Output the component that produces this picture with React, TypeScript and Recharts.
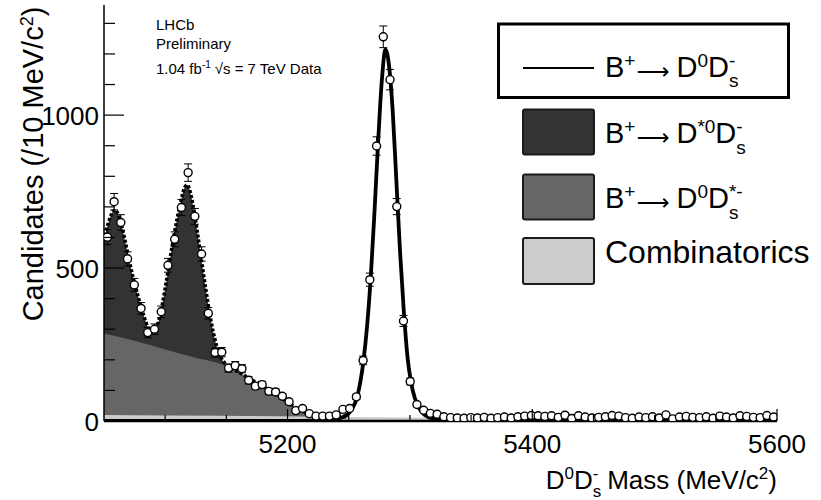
import { ComposedChart, Area, Line, Scatter, ErrorBar, XAxis, YAxis, Legend } from 'recharts';

// binning of the mass histogram: 100 bins from 5050 to 5600 MeV
const BIN_LO = 5050;
const BIN_WIDTH = 5.5;

// candidates per bin
const counts = [
  601, 717, 649, 530, 445, 368, 289, 300, 357, 509,
  594, 698, 812, 669, 546, 352, 224, 225, 173, 181,
  171, 133, 114, 119, 97, 95, 81, 63, 34, 41,
  24, 16, 16, 16, 20, 38, 41, 79, 198, 462,
  899, 1256, 1116, 701, 327, 129, 54, 35, 25, 22,
  14, 11, 10, 9, 11, 10, 12, 9, 11, 13,
  10, 14, 16, 18, 17, 15, 17, 12, 19, 8,
  17, 13, 10, 12, 14, 18, 16, 11, 9, 13,
  11, 14, 10, 20, 7, 13, 15, 12, 11, 14,
  9, 16, 13, 10, 17, 15, 12, 11, 18, 13,
];

// total background fit (top of the dark area, dotted line)
const bkgMass = [
  5050, 5053, 5056, 5059, 5062, 5065, 5068, 5071, 5074, 5077, 5080, 5083, 5086, 5089,
  5092, 5095, 5098, 5101, 5104, 5107, 5110, 5113, 5116, 5118, 5121, 5124, 5127, 5130,
  5133, 5136, 5139, 5142, 5145, 5150, 5160, 5170, 5180, 5190, 5200, 5210, 5220, 5230,
  5240, 5250,
];
const bkgTotal = [
  590, 640, 675, 690, 672, 630, 574, 518, 466, 420, 378, 338, 306, 294,
  302, 332, 388, 458, 532, 602, 666, 722, 764, 772, 740, 676, 598, 516,
  436, 360, 296, 246, 212, 184, 160, 136, 113, 90, 62, 36, 22, 17,
  15, 14,
];

// B+ -> D0 Ds*- plus combinatorics (top of the mid grey area)
const partMass = [5050, 5075, 5100, 5125, 5150, 5156, 5164, 5172, 5180, 5188, 5195, 5202, 5210, 5218, 5225, 5235];
const partTop = [286, 262, 234, 207, 180, 168, 150, 130, 111, 92, 72, 52, 30, 19, 16, 15];

// combinatorial background
const combMass = [5050, 5150, 5250, 5350, 5450, 5600];
const combTop = [20, 17, 13, 10, 8, 6];

// B+ -> D0 Ds- signal shape
const sigMass = [
  5050, 5200, 5220, 5235, 5245, 5252, 5257, 5262, 5265, 5268, 5271, 5274, 5277, 5280,
  5283, 5286, 5289, 5292, 5295, 5298, 5301, 5304, 5307, 5312, 5320, 5335, 5360, 5600,
];
const sigVals = [
  0, 0, 1, 4, 12, 35, 80, 195, 310, 470, 680, 910, 1110, 1214,
  1160, 1010, 780, 550, 360, 210, 125, 75, 45, 20, 6, 1, 0, 0,
];

const xTicks = [5100, 5150, 5200, 5250, 5300, 5350, 5400, 5450, 5500, 5550, 5600];
const xMajor = [5200, 5400, 5600];
const yTicks = [0, 100, 200, 300, 400, 500, 600, 700, 800, 900, 1000, 1100, 1200, 1300];
const yMajor = [0, 500, 1000];

const toPts = (ms: number[], vs: number[]) => ms.map((m, i) => ({ m, v: vs[i] }));

const dataPts = counts.map((v, i) => ({ m: BIN_LO + BIN_WIDTH * (i + 0.5), v, e: Math.sqrt(v) }));
const bkgPts = toPts(bkgMass, bkgTotal);
const partPts = toPts(partMass, partTop);
const combPts = toPts(combMass, combTop);
const sigPts = toPts(sigMass, sigVals);

const BottomTick = ({ x, y, payload }: any) => {
  const major = xMajor.includes(payload.value);
  return (
    <g>
      <line x1={x} x2={x} y1={y} y2={y - (major ? 12 : 6)} stroke="#000" strokeWidth={1.2} />
      {major && (
        <text x={x} y={y + 32} textAnchor="middle" fontSize={26} fill="#000">
          {payload.value}
        </text>
      )}
    </g>
  );
};

const TopTick = ({ x, y, payload }: any) => {
  const major = xMajor.includes(payload.value);
  return <line x1={x} x2={x} y1={y} y2={y + (major ? 13 : 7)} stroke="#000" strokeWidth={1.2} />;
};

const LeftTick = ({ x, y, payload }: any) => {
  const major = yMajor.includes(payload.value);
  return (
    <g>
      <line x1={x} x2={x + (major ? 20 : 11)} y1={y} y2={y} stroke="#000" strokeWidth={1.2} />
      {major && (
        <text x={x - 5} y={y + 9.5} textAnchor="end" fontSize={26} fill="#000">
          {payload.value}
        </text>
      )}
    </g>
  );
};

const RightTick = ({ x, y, payload }: any) => {
  const major = yMajor.includes(payload.value);
  return <line x1={x} x2={x - (major ? 18 : 9)} y1={y} y2={y} stroke="#000" strokeWidth={1.2} />;
};

const xTitle = () => (
  <text x={777} y={489} textAnchor="end" fontSize={26} fill="#000">
    D<tspan fontSize={17} dy={-10}>0</tspan>
    <tspan dy={10}>D</tspan>
    <tspan fontSize={17} dy={-10}>-</tspan>
    <tspan fontSize={17} dx={-5.7} dy={18}>s</tspan>
    <tspan dy={-8} dx={6}>Mass (MeV/c</tspan>
    <tspan fontSize={17} dy={-10}>2</tspan>
    <tspan dy={10}>)</tspan>
  </text>
);

// y title plus the LHCb annotation in the top-left corner of the frame
const yTitle = () => (
  <g>
    <text transform="rotate(-90)" x={-164} y={43} textAnchor="middle" fontSize={29} fill="#000">
      Candidates (/10 MeV/c<tspan fontSize={18} dy={-10}>2</tspan>
      <tspan dy={10}>)</tspan>
    </text>
    <g fontSize={15} fill="#000">
      <text x={156} y={30}>LHCb</text>
      <text x={156} y={48.5}>Preliminary</text>
      <text x={156} y={74}>
        1.04 fb<tspan fontSize={10} dy={-6}>-1</tspan>
        <tspan dy={6} dx={4}>√s = 7 TeV Data</tspan>
      </text>
    </g>
  </g>
);

const Decay = ({ x, y, a, b, bw }: { x: number; y: number; a: string; b: string; bw: number }) => (
  <text x={x} y={y} fontSize={29} fill="#000">
    B<tspan fontSize={19} dy={-10}>+</tspan>
    <tspan dy={12} dx={1} fontSize={23} fontFamily="DejaVu Sans">⟶</tspan>
    <tspan dy={-2} dx={7}>D</tspan>
    <tspan fontSize={19} dy={-10}>{a}</tspan>
    <tspan dy={10}>D</tspan>
    <tspan fontSize={19} dy={-10}>{b}</tspan>
    <tspan fontSize={19} dx={-bw} dy={20.5}>s</tspan>
  </text>
);

const renderLegend = () => (
  <svg width={331} height={274} style={{ display: 'block' }}>
    <rect x={8.5} y={4} width={290} height={73.5} fill="#fff" stroke="#000" strokeWidth={3} />
    <line x1={33} x2={104} y1={48} y2={48} stroke="#000" strokeWidth={2} />
    <Decay x={115} y={56.7} a="0" b="-" bw={6.3} />
    <rect x={33} y={89.5} width={71} height={45} rx={2} fill="#333333" stroke="#1a1a1a" strokeWidth={2} />
    <Decay x={115} y={123.3} a="*0" b="-" bw={6.3} />
    <rect x={33} y={154.5} width={71} height={45} rx={2} fill="#666666" stroke="#1a1a1a" strokeWidth={2} />
    <Decay x={115} y={188} a="0" b="*-" bw={13.7} />
    <rect x={33} y={218} width={71} height={46} rx={2} fill="#cccccc" stroke="#1a1a1a" strokeWidth={2} />
    <text x={115} y={243} fontSize={32} fill="#000">Combinatorics</text>
  </svg>
);

export default function App() {
  return (
    <div
      style={{
        position: 'absolute',
        left: 0,
        top: 0,
        width: 821,
        height: 500,
        background: '#fff',
        fontFamily: '"Liberation Sans", Arial, Helvetica, sans-serif',
      }}
    >
      <ComposedChart width={821} height={500} margin={{ top: 5, right: 44, bottom: 0, left: 0 }}>
        <XAxis
          xAxisId="b"
          type="number"
          dataKey="m"
          domain={[5050, 5600]}
          allowDataOverflow
          ticks={xTicks}
          interval={0}
          height={79}
          tickSize={0}
          tickMargin={0}
          axisLine={{ stroke: '#000', strokeWidth: 2.5 }}
          tick={BottomTick}
          label={xTitle}
        />
        <XAxis
          xAxisId="t"
          orientation="top"
          type="number"
          dataKey="m"
          domain={[5050, 5600]}
          allowDataOverflow
          ticks={xTicks}
          interval={0}
          height={0}
          tickSize={0}
          tickMargin={0}
          axisLine={{ stroke: '#000', strokeWidth: 1.5 }}
          tick={TopTick}
        />
        <YAxis
          yAxisId="l"
          type="number"
          domain={[0, 1360]}
          allowDataOverflow
          ticks={yTicks}
          interval={0}
          width={104}
          tickSize={0}
          tickMargin={0}
          axisLine={{ stroke: '#000', strokeWidth: 1.5 }}
          tick={LeftTick}
          label={yTitle}
        />
        <YAxis
          yAxisId="r"
          orientation="right"
          type="number"
          domain={[0, 1360]}
          allowDataOverflow
          ticks={yTicks}
          interval={0}
          width={0}
          tickSize={0}
          tickMargin={0}
          axisLine={{ stroke: '#000', strokeWidth: 1.5 }}
          tick={RightTick}
        />

        <Area
          xAxisId="b"
          yAxisId="l"
          data={bkgPts}
          dataKey="v"
          type="monotone"
          fill="#333333"
          fillOpacity={1}
          stroke="none"
          isAnimationActive={false}
        />
        <Area
          xAxisId="b"
          yAxisId="l"
          data={partPts}
          dataKey="v"
          type="monotone"
          fill="#666666"
          fillOpacity={1}
          stroke="none"
          isAnimationActive={false}
        />
        <Area
          xAxisId="b"
          yAxisId="l"
          data={combPts}
          dataKey="v"
          type="monotone"
          fill="#cccccc"
          fillOpacity={1}
          stroke="none"
          isAnimationActive={false}
        />
        <Line
          xAxisId="b"
          yAxisId="l"
          data={bkgPts}
          dataKey="v"
          type="monotone"
          stroke="#000"
          strokeWidth={3.5}
          strokeDasharray="3 2"
          dot={false}
          activeDot={false}
          isAnimationActive={false}
        />
        <Line
          xAxisId="b"
          yAxisId="l"
          data={sigPts}
          dataKey="v"
          type="monotone"
          stroke="#000"
          strokeWidth={3.8}
          dot={false}
          activeDot={false}
          isAnimationActive={false}
        />
        <Scatter
          xAxisId="b"
          yAxisId="l"
          data={dataPts}
          dataKey="v"
          isAnimationActive={false}
          shape={(p: any) => <circle cx={p.cx} cy={p.cy} r={4} fill="#fff" stroke="#000" strokeWidth={1.4} />}
        >
          <ErrorBar dataKey="e" direction="y" width={4} stroke="#000" strokeWidth={1} isAnimationActive={false} />
        </Scatter>

        <Legend
          layout="vertical"
          align="center"
          verticalAlign="middle"
          wrapperStyle={{ position: 'absolute', left: 490, top: 20, width: 331, height: 274, background: '#fff' }}
          content={renderLegend}
        />
      </ComposedChart>
    </div>
  );
}
